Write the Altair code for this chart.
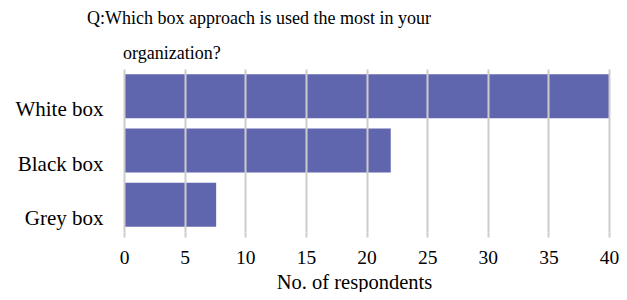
import altair as alt
import pandas as pd

categories = ["White box", "Black box", "Grey box"]
respondents = [40, 22, 7.6]
x_ticks = [0, 5, 10, 15, 20, 25, 30, 35, 40]

df = pd.DataFrame({"approach": categories, "count": respondents})

FONT = "Liberation Serif"

chart = (
    alt.Chart(df)
    .mark_bar(color="#6066ad")
    .encode(
        x=alt.X(
            "count:Q",
            scale=alt.Scale(domain=[0, 40], nice=False),
            axis=alt.Axis(
                values=x_ticks,
                title="No. of respondents",
                grid=True,
                gridColor="#cccccc",
                gridWidth=2,
                domain=False,
                ticks=True,
                tickSize=5,
                tickColor="#cccccc",
                tickWidth=2,
                labelFont=FONT,
                labelFontSize=19.5,
                labelColor="#000000",
                labelPadding=11,
                labelFlush=False,
                titleFont=FONT,
                titleFontSize=20.5,
                titleFontWeight="normal",
                titleColor="#000000",
                titleBaseline="alphabetic",
                titleY=56,
                titleX=230,
                titleAlign="center",
                zindex=1,
            ),
        ),
        y=alt.Y(
            "approach:N",
            sort=categories,
            scale=alt.Scale(paddingInner=0.19, paddingOuter=0.095),
            axis=alt.Axis(
                title=None,
                grid=False,
                domain=False,
                ticks=False,
                labelFont=FONT,
                labelFontSize=21,
                labelColor="#000000",
                labelPadding=21,
                labelBaseline="alphabetic",
                labelOffset=20,
            ),
        ),
    )
    .properties(
        width=485,
        height=163,
        autosize=alt.AutoSizeParams(type="none"),
        padding={"left": 116, "top": 61, "right": 10, "bottom": 60},
        title=alt.TitleParams(
            text=[
                "Q:Which box approach is used the most in your",
                "\u200b\u2003\u2003organization?",
            ],
            font=FONT,
            fontSize=18,
            fontWeight="normal",
            color="#000000",
            anchor="start",
            frame="group",
            dx=-37,
            lineHeight=35,
            offset=6,
        ),
    )
    .configure_view(stroke=None)
)

chart.save("out.html", embed_options={"renderer": "svg", "actions": False})
